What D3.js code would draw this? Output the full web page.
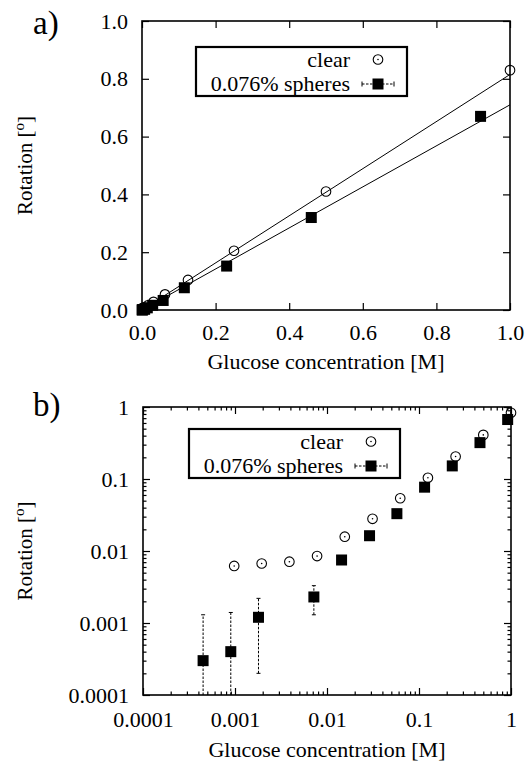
<!DOCTYPE html>
<html>
<head>
<meta charset="utf-8">
<script src="https://cdn.jsdelivr.net/npm/d3@7"></script>
<style>
  body { margin: 0; background: #fff; }
</style>
</head>
<body>
<div id="container"></div>
<script>
/**
 * CONSTANTS AND GLOBALS
 * */
const width = 527,
  height = 764,
  font = '"Liberation Serif", "Times New Roman", Tinos';

// measurements: glucose concentration [M] and rotation [deg]
const clearConc = [0.00098, 0.00195, 0.0039, 0.0078, 0.0156, 0.03125, 0.0625, 0.125, 0.25, 0.5, 1.0];
const clearRot = [0.0062, 0.0067, 0.0071, 0.0085, 0.0158, 0.028, 0.054, 0.104, 0.205, 0.41, 0.83];
const sphereConc = [0.00045, 0.0009, 0.0018, 0.0072, 0.0144, 0.029, 0.0575, 0.115, 0.23, 0.46, 0.92];
const sphereRot = [0.0003, 0.0004, 0.0012, 0.0023, 0.0075, 0.0163, 0.033, 0.077, 0.152, 0.32, 0.67];
const sphereErr = [0.001, 0.001, 0.001, 0.001, 0.001, 0.001, 0.001, 0.001, 0.001, 0.001, 0.001];

// linear fits through the origin (clear, spheres)
const fitSlopes = [0.815, 0.71];

const seriesNames = ["clear", "0.076% spheres"];
const linTicks = [0, 0.2, 0.4, 0.6, 0.8, 1.0];
const linTickLabels = ["0.0", "0.2", "0.4", "0.6", "0.8", "1.0"];
const logTicks = [0.0001, 0.001, 0.01, 0.1, 1];
const logTickLabels = ["0.0001", "0.001", "0.01", "0.1", "1"];

const clearData = clearConc.map((c, i) => ({ x: c, y: clearRot[i] }));
const sphereData = sphereConc.map((c, i) => ({ x: c, y: sphereRot[i], e: sphereErr[i] }));

const svg = d3.select("#container")
  .append("svg")
  .attr("width", width)
  .attr("height", height)
  .style("display", "block");

/**
 * PANEL a) linear axes
 * */
const xA = d3.scaleLinear().domain([0, 1]).range([142, 510]);
const yA = d3.scaleLinear().domain([0, 1]).range([310, 21]);

/**
 * PANEL b) log axes
 * */
const xB = d3.scaleLog().domain([0.0001, 1]).range([143, 511]);
const yB = d3.scaleLog().domain([0.0001, 1]).range([695, 407]);

const minorTicks = [];
logTicks.slice(0, -1).forEach(d => {
  for (let k = 2; k <= 9; k++) minorTicks.push(k * d);
});

function styleAxis(g) {
  g.attr("font-family", null);
  g.select(".domain").remove();
  g.selectAll("line").attr("stroke", "#000").attr("stroke-width", 1.2);
  g.selectAll("text")
    .style("font-family", font)
    .attr("font-size", 22)
    .attr("fill", "#000");
}

function drawAxes(x, y, ticks, labels, minor, pad) {
  const [x0, x1] = x.range(), [y0, y1] = y.range();
  const fmt = d => labels[ticks.indexOf(d)];

  svg.append("g")
    .attr("transform", `translate(0,${y0})`)
    .call(d3.axisBottom(x).tickValues(ticks).tickSize(-7).tickPadding(pad).tickFormat(fmt))
    .call(styleAxis);
  svg.append("g")
    .attr("transform", `translate(0,${y1})`)
    .call(d3.axisTop(x).tickValues(ticks).tickSize(-7).tickFormat(""))
    .call(styleAxis);
  svg.append("g")
    .attr("transform", `translate(${x0},0)`)
    .call(d3.axisLeft(y).tickValues(ticks).tickSize(-7).tickPadding(14).tickFormat(fmt))
    .call(styleAxis);
  svg.append("g")
    .attr("transform", `translate(${x1},0)`)
    .call(d3.axisRight(y).tickValues(ticks).tickSize(-7).tickFormat(""))
    .call(styleAxis);

  if (minor) {
    [[d3.axisBottom(x), `translate(0,${y0})`], [d3.axisTop(x), `translate(0,${y1})`],
     [d3.axisLeft(y), `translate(${x0},0)`], [d3.axisRight(y), `translate(${x1},0)`]]
      .forEach(([ax, tr]) => {
        svg.append("g")
          .attr("transform", tr)
          .call(ax.tickValues(minorTicks).tickSize(-3.5).tickFormat(""))
          .call(styleAxis);
      });
  }

  svg.append("rect")
    .attr("x", x0).attr("y", y1)
    .attr("width", x1 - x0).attr("height", y0 - y1)
    .attr("fill", "none")
    .attr("stroke", "#000")
    .attr("stroke-width", 1.6);
}

function drawPoints(x, y, withDot) {
  const [yLo] = y.domain();
  const g = svg.append("g");

  // error bars of the sphere series (dashed)
  sphereData.forEach(d => {
    const lo = d.y - d.e, hi = d.y + d.e;
    const clipped = lo <= yLo;
    const py0 = clipped ? y(yLo) : y(lo), py1 = y(hi), px = x(d.x);
    g.append("line")
      .attr("x1", px).attr("x2", px)
      .attr("y1", py0).attr("y2", py1)
      .attr("stroke", "#000").attr("stroke-width", 1)
      .attr("stroke-dasharray", "2.5,1.5");
    g.append("line")
      .attr("x1", px - 2).attr("x2", px + 2)
      .attr("y1", py1).attr("y2", py1)
      .attr("stroke", "#000").attr("stroke-width", 1);
    if (!clipped) {
      g.append("line")
        .attr("x1", px - 2).attr("x2", px + 2)
        .attr("y1", py0).attr("y2", py0)
        .attr("stroke", "#000").attr("stroke-width", 1);
    }
  });

  g.selectAll("rect.sq")
    .data(sphereData)
    .join("rect")
    .attr("class", "sq")
    .attr("x", d => x(d.x) - 5.5)
    .attr("y", d => y(d.y) - 5.5)
    .attr("width", 11)
    .attr("height", 11)
    .attr("fill", "#000");

  g.selectAll("circle.ci")
    .data(clearData)
    .join("circle")
    .attr("class", "ci")
    .attr("cx", d => x(d.x))
    .attr("cy", d => y(d.y))
    .attr("r", 4.8)
    .attr("fill", "none")
    .attr("stroke", "#000")
    .attr("stroke-width", 1.1);

  if (withDot) {
    g.selectAll("circle.dot")
      .data(clearData)
      .join("circle")
      .attr("class", "dot")
      .attr("cx", d => x(d.x))
      .attr("cy", d => y(d.y))
      .attr("r", 0.8)
      .attr("fill", "#000");
  }
}

function drawLegend(bx, by) {
  const w = 211, h = 49;
  const g = svg.append("g").attr("transform", `translate(${bx},${by})`);
  g.append("rect")
    .attr("width", w).attr("height", h)
    .attr("fill", "#fff")
    .attr("stroke", "#000")
    .attr("stroke-width", 2.2);

  const rows = [12.5, 37];
  g.selectAll("text")
    .data(seriesNames)
    .join("text")
    .attr("x", 154)
    .attr("y", (d, i) => rows[i] + 7)
    .attr("text-anchor", "end")
    .style("font-family", font)
    .attr("font-size", 22)
    .text(d => d);

  const sx = 182;
  g.append("circle")
    .attr("cx", sx).attr("cy", rows[0]).attr("r", 4.8)
    .attr("fill", "none").attr("stroke", "#000").attr("stroke-width", 1.1);
  g.append("circle")
    .attr("cx", sx).attr("cy", rows[0]).attr("r", 0.8)
    .attr("fill", "#000");

  g.append("line")
    .attr("x1", sx - 16).attr("x2", sx + 16)
    .attr("y1", rows[1]).attr("y2", rows[1])
    .attr("stroke", "#000").attr("stroke-width", 1)
    .attr("stroke-dasharray", "2.5,1.5");
  [sx - 16, sx + 16].forEach(cx => {
    g.append("line")
      .attr("x1", cx).attr("x2", cx)
      .attr("y1", rows[1] - 2.5).attr("y2", rows[1] + 2.5)
      .attr("stroke", "#000").attr("stroke-width", 1);
  });
  g.append("rect")
    .attr("x", sx - 5.5).attr("y", rows[1] - 5.5)
    .attr("width", 11).attr("height", 11)
    .attr("fill", "#000");
}

function drawTitles(x, y, tag, tagY, xTitleY) {
  const [x0, x1] = x.range(), [y0, y1] = y.range();
  svg.append("text")
    .attr("x", 33).attr("y", tagY)
    .style("font-family", font)
    .attr("font-size", 33)
    .text(tag);

  svg.append("text")
    .attr("x", (x0 + x1) / 2).attr("y", xTitleY)
    .attr("text-anchor", "middle")
    .style("font-family", font)
    .attr("font-size", 22)
    .text("Glucose concentration [M]");

  const yt = svg.append("text")
    .attr("transform", `translate(32,${(y0 + y1) / 2}) rotate(-90)`)
    .attr("text-anchor", "middle")
    .style("font-family", font)
    .attr("font-size", 21);
  yt.append("tspan").text("Rotation [");
  yt.append("tspan").attr("font-size", 15).attr("dy", -8).text("o");
  yt.append("tspan").attr("dy", 8).text("]");
}

/**
 * DRAW
 * */
// panel a
drawAxes(xA, yA, linTicks, linTickLabels, false, 14);
const fitLine = d3.line().x(d => xA(d[0])).y(d => yA(d[1]));
svg.append("g")
  .selectAll("path")
  .data(fitSlopes)
  .join("path")
  .attr("d", s => fitLine([[0, 0], [1, s]]))
  .attr("fill", "none")
  .attr("stroke", "#000")
  .attr("stroke-width", 1);
drawPoints(xA, yA, false);
drawLegend(196, 47);
drawTitles(xA, yA, "a)", 34, 369);

// panel b
drawAxes(xB, yB, logTicks, logTickLabels, true, 16);
drawPoints(xB, yB, true);
drawLegend(189, 429);
drawTitles(xB, yB, "b)", 416, 757);
</script>
</body>
</html>
